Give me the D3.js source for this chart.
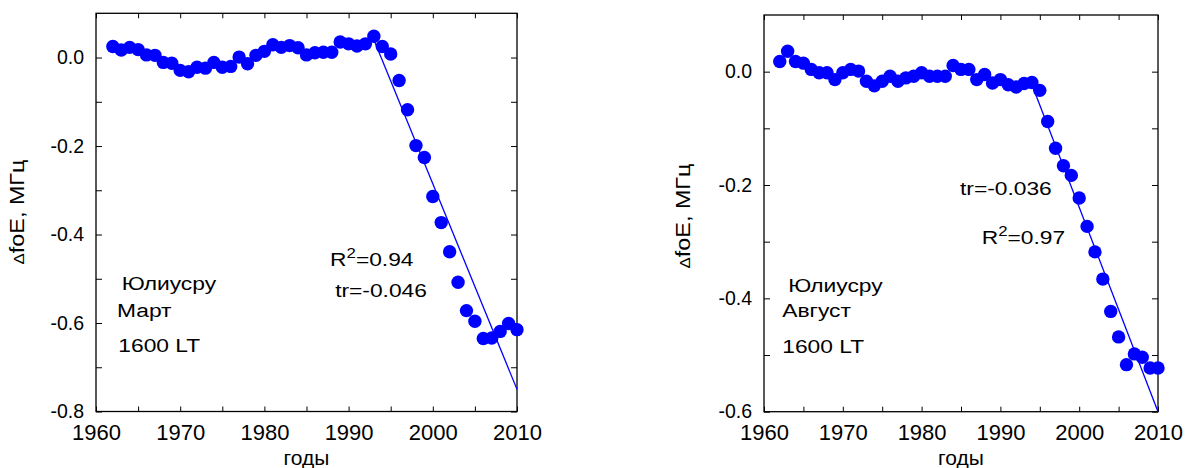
<!DOCTYPE html>
<html>
<head>
<meta charset="utf-8">
<script src="https://cdnjs.cloudflare.com/ajax/libs/d3/7.8.5/d3.min.js"></script>
<style>
  body { margin: 0; background: #fff; }
  text { font-family: "Liberation Sans", Arial, sans-serif; fill: #000; }
</style>
</head>
<body>
<svg id="chart" width="1185" height="468"></svg>
<script>
// years of observation
const years = [1962, 1963, 1964, 1965, 1966, 1967, 1968, 1969, 1970, 1971,
  1972, 1973, 1974, 1975, 1976, 1977, 1978, 1979, 1980, 1981,
  1982, 1983, 1984, 1985, 1986, 1987, 1988, 1989, 1990, 1991,
  1992, 1993, 1994, 1995, 1996, 1997, 1998, 1999, 2000, 2001,
  2002, 2003, 2004, 2005, 2006, 2007, 2008, 2009, 2010];

// dfoE, MHz - March, 1600 LT
const marchValues = [0.025, 0.017, 0.023, 0.018, 0.006, 0.005, -0.011, -0.013, -0.029, -0.032,
  -0.022, -0.024, -0.011, -0.022, -0.020, 0.001, -0.014, 0.005, 0.014, 0.029,
  0.023, 0.027, 0.022, 0.006, 0.011, 0.012, 0.012, 0.035, 0.031, 0.026,
  0.031, 0.048, 0.025, 0.008, -0.052, -0.118, -0.199, -0.226, -0.314, -0.373,
  -0.439, -0.508, -0.572, -0.596, -0.635, -0.634, -0.619, -0.601, -0.615];

// dfoE, MHz - August, 1600 LT
const augustValues = [0.018, 0.036, 0.018, 0.015, 0.004, -0.002, -0.002, -0.014, -0.002, 0.004,
  0.001, -0.017, -0.025, -0.017, -0.008, -0.017, -0.011, -0.008, -0.002, -0.008,
  -0.008, -0.008, 0.011, 0.004, 0.004, -0.014, -0.005, -0.020, -0.014, -0.023,
  -0.027, -0.021, -0.019, -0.033, -0.088, -0.135, -0.166, -0.183, -0.223, -0.273,
  -0.318, -0.366, -0.423, -0.468, -0.517, -0.498, -0.504, -0.523, -0.523];

// linear trends [year, value] at both ends
const marchTrend = [[1993, 0.04], [2010, -0.75]];
const augustTrend = [[1994.2, -0.03], [2010, -0.6]];

// ticks
const xTicks = [1960, 1970, 1980, 1990, 2000, 2010];
const xMinorTicks = [1965, 1975, 1985, 1995, 2005];
const marchYTicks = [0, -0.2, -0.4, -0.6, -0.8];
const marchYMinor = [-0.1, -0.3, -0.5, -0.7];
const augustYTicks = [0, -0.2, -0.4, -0.6];
const augustYMinor = [-0.1, -0.3, -0.5];

const blue = "#0000ff";
const svg = d3.select("#chart");

const panels = [
  {
    values: marchValues, trend: marchTrend, yDomain: [-0.8, 0.1],
    yTicks: marchYTicks, yMinor: marchYMinor,
    left: 96, right: 517, top: 13.3, bottom: 411.5,
    labelX: 24, labelY: 212,
    notes: [
      { r2: "0.94", x: 1987.8, y: -0.471 },
      { text: "tr=-0.046", x: 1988.4, y: -0.541 },
      { text: "Юлиусру", x: 1963.05, y: -0.526 },
      { text: "Март", x: 1962.5, y: -0.586 },
      { text: "1600 LT", x: 1962.65, y: -0.665 }
    ]
  },
  {
    values: augustValues, trend: augustTrend, yDomain: [-0.6, 0.1],
    yTicks: augustYTicks, yMinor: augustYMinor,
    left: 764, right: 1158, top: 15, bottom: 411.7,
    labelX: 690, labelY: 216,
    notes: [
      { text: "tr=-0.036", x: 1984.87, y: -0.2176 },
      { r2: "0.97", x: 1987.63, y: -0.3036 },
      { text: "Юлиусру", x: 1963.08, y: -0.388 },
      { text: "Август", x: 1962.32, y: -0.433 },
      { text: "1600 LT", x: 1962.32, y: -0.496 }
    ]
  }
];

function styleAxis(g) {
  g.select(".domain").remove();
  g.selectAll(".tick line").attr("stroke", "#000").attr("stroke-width", 1);
  g.selectAll("text").attr("fill", "#000").style("font-family", null);
}

panels.forEach(function (p) {
  let x = d3.scaleLinear().domain([1960, 2010]).range([p.left, p.right]);
  let y = d3.scaleLinear().domain(p.yDomain).range([p.bottom, p.top]);

  let g = svg.append("g");

  // bottom axis, labelled
  g.append("g")
    .attr("transform", "translate(0," + p.bottom + ")")
    .call(d3.axisBottom(x).tickValues(xTicks).tickSize(-5).tickPadding(13).tickFormat(d3.format("d")))
    .call(styleAxis)
    .attr("font-size", 22);
  g.append("g")
    .attr("transform", "translate(0," + p.bottom + ")")
    .call(d3.axisBottom(x).tickValues(xMinorTicks).tickSize(-5).tickFormat(""))
    .call(styleAxis);

  // top axis, ticks only
  g.append("g")
    .attr("transform", "translate(0," + p.top + ")")
    .call(d3.axisTop(x).tickValues(xTicks.concat(xMinorTicks)).tickSize(-5).tickFormat(""))
    .call(styleAxis);

  // left axis, labelled
  g.append("g")
    .attr("transform", "translate(" + p.left + ",0)")
    .call(d3.axisLeft(y).tickValues(p.yTicks).tickSize(-6).tickPadding(12).tickFormat(d3.format(".1f")))
    .call(styleAxis)
    .attr("font-size", 19.5);
  g.append("g")
    .attr("transform", "translate(" + p.left + ",0)")
    .call(d3.axisLeft(y).tickValues(p.yMinor).tickSize(-6).tickFormat(""))
    .call(styleAxis);

  // right axis, ticks only
  g.append("g")
    .attr("transform", "translate(" + p.right + ",0)")
    .call(d3.axisRight(y).tickValues(p.yTicks.concat(p.yMinor)).tickSize(-6).tickFormat(""))
    .call(styleAxis);

  // minus sign as hyphen like the original
  g.selectAll(".tick text").text(function () { return this.textContent.replace("−", "-"); });

  // frame
  g.append("rect")
    .attr("x", p.left).attr("y", p.top)
    .attr("width", p.right - p.left).attr("height", p.bottom - p.top)
    .attr("fill", "none").attr("stroke", "#000").attr("stroke-width", 1.3);

  // trend line
  g.append("path")
    .datum(p.trend)
    .attr("d", d3.line().x(d => x(d[0])).y(d => y(d[1])))
    .attr("fill", "none").attr("stroke", blue).attr("stroke-width", 1.3);

  // points
  g.append("g").selectAll("circle")
    .data(years.map((yr, i) => [yr, p.values[i]]))
    .enter().append("circle")
    .attr("cx", d => x(d[0]))
    .attr("cy", d => y(d[1]))
    .attr("r", 6.7)
    .attr("fill", blue);

  // x title
  g.append("text")
    .attr("x", (p.left + p.right) / 2)
    .attr("y", 465)
    .attr("text-anchor", "middle")
    .attr("font-size", 21)
    .text("годы");

  // y title
  let yl = g.append("text")
    .attr("transform", "translate(" + p.labelX + "," + p.labelY + ") rotate(-90) scale(1.2,1)")
    .attr("text-anchor", "middle")
    .attr("font-size", 19.5);
  yl.append("tspan").attr("font-size", 14).text("Δ");
  yl.append("tspan").text("foE, МГц");

  // annotations
  p.notes.forEach(function (n) {
    let t = g.append("text")
      .attr("transform", "translate(" + x(n.x) + "," + y(n.y) + ") scale(1.2,1)")
      .attr("font-size", 19);
    if (n.r2) {
      t.append("tspan").text("R");
      t.append("tspan").attr("font-size", 14).attr("dy", -8).text("2");
      t.append("tspan").attr("dy", 8).text("=" + n.r2);
    } else {
      t.text(n.text);
    }
  });
});
</script>
</body>
</html>
